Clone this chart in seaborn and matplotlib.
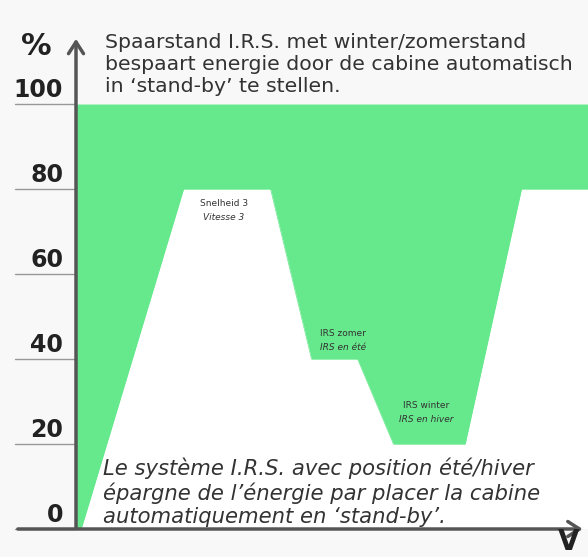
import matplotlib
matplotlib.use("Agg")
import matplotlib.pyplot as plt
import seaborn as sns
import pandas as pd

# profile of the cabine (white area below the green savings band)
speed = [0, 1, 21, 38, 46, 55, 62, 76, 87, 100]
level = [0, 0, 80, 80, 40, 40, 20, 20, 80, 80]

y_ticks = [0, 20, 40, 60, 80, 100]

title_nl = "Spaarstand I.R.S. met winter/zomerstand\nbespaart energie door de cabine automatisch\nin \u2018stand-by\u2019 te stellen."
title_fr = "Le syst\u00e8me I.R.S. avec position \u00e9t\u00e9/hiver\n\u00e9pargne de l\u2019\u00e9nergie par placer la cabine\nautomatiquement en \u2018stand-by\u2019."

step_labels = ["Snelheid 3", "IRS zomer", "IRS winter"]
step_labels_fr = ["Vitesse 3", "IRS en \u00e9t\u00e9", "IRS en hiver"]
step_x = [28.9, 52.1, 68.4]
step_y = [75, 44.5, 27.5]

GREEN = "#66e88c"
AXIS = "#555555"
TEXT = "#333333"

sns.set_theme(style="white")
plt.rcParams['font.family'] = ['DejaVu Sans']

fig = plt.figure(figsize=(5.88, 5.57), dpi=100, facecolor="#f8f8f8")
ax = fig.add_axes([76 / 588, 28 / 557, 512 / 588, 425 / 557])
ax.set_facecolor("white")

df = pd.DataFrame({"speed": speed, "level": level})
ax.fill_between(df["speed"], df["level"], 100, color=GREEN, linewidth=0)
sns.lineplot(data=df, x="speed", y="level", color=GREEN, linewidth=0.5, ax=ax)

ax.set_xlim(0, 100)
ax.set_ylim(0, 100)
ax.set_xlabel("")
ax.set_ylabel("")
ax.set_xticks([])
ax.set_yticks([])
for s in ax.spines.values():
    s.set_visible(False)

# tick lines and labels on the left
for t in y_ticks:
    ax.plot([-11.9, 0], [t, t], color="#999999", lw=1, clip_on=False)
    ax.text(-2.5, t + 0.5, str(t), ha="right", va="bottom", fontsize=17,
            fontweight="bold", color="#222222", clip_on=False)

# axes with arrows
ax.annotate("", xy=(0, 116), xytext=(0, -0.3), annotation_clip=False,
            arrowprops=dict(arrowstyle="->,head_length=0.7,head_width=0.45",
                            lw=2.5, color=AXIS))
ax.annotate("", xy=(99.5, 0), xytext=(-11.9, 0), annotation_clip=False,
            arrowprops=dict(arrowstyle="->,head_length=0.7,head_width=0.45",
                            lw=2.5, color=AXIS))

ax.text(-7.8, 113.5, "%", ha="center", va="center", fontsize=22,
        fontweight="bold", color="#222222", clip_on=False)
ax.text(96.3, -6.4, "V", ha="center", va="bottom", fontsize=20,
        fontweight="bold", color="#222222", clip_on=False)

ax.text(5.6, 116.8, title_nl, ha="left", va="top", fontsize=14.7,
        color=TEXT, linespacing=1.2, clip_on=False)
ax.text(5.3, 16.8, title_fr, ha="left", va="top", fontsize=15.2,
        style="italic", color=TEXT, linespacing=1.2, clip_on=False)

for lab, lab_fr, x, y in zip(step_labels, step_labels_fr, step_x, step_y):
    ax.text(x, y + 1.6, lab, ha="center", va="center", fontsize=6.5, color=TEXT)
    ax.text(x, y - 1.8, lab_fr, ha="center", va="center", fontsize=6.5,
            style="italic", color=TEXT)

fig.savefig("out.png", dpi=100, facecolor=fig.get_facecolor())
